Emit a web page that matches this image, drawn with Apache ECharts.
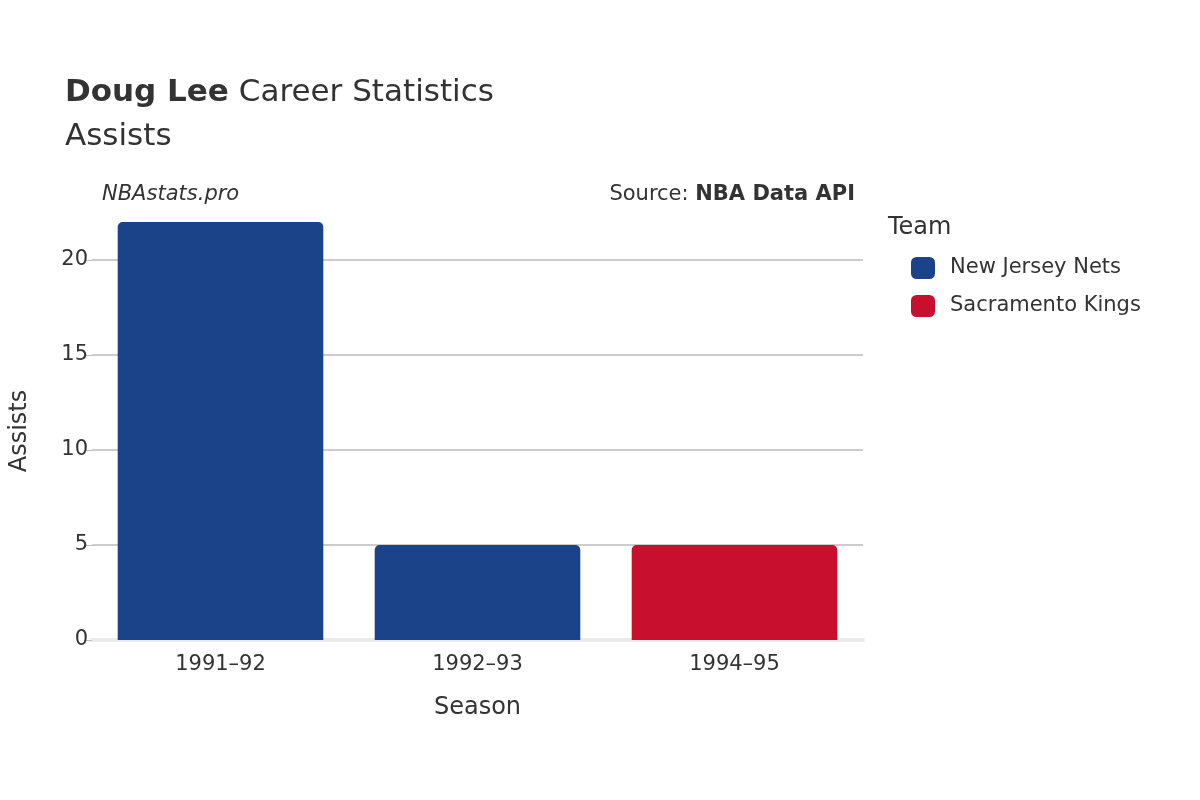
<!DOCTYPE html>
<html>
<head>
<meta charset="utf-8">
<script src="https://cdn.jsdelivr.net/npm/echarts@6/dist/echarts.min.js"></script>
<style>html,body{margin:0;padding:0;background:#fff}#main{width:1200px;height:800px}</style>
</head>
<body>
<div id="main"></div>
<script>
var chart = echarts.init(document.getElementById('main'));

var seasons = ['1991–92', '1992–93', '1994–95'];
var netsAssists = [22, 5, null];
var kingsAssists = [null, null, 5];
var yTicks = [0, 5, 10, 15, 20];

var font = 'DejaVu Sans';

option = {
  backgroundColor: '#fff',
  textStyle: { fontFamily: font },
  title: [{
    text: '{b|Doug Lee} Career Statistics\nAssists',
    left: 60, top: 66,
    textStyle: {
      fontFamily: font, fontSize: 31, fontWeight: 'normal', color: '#333', lineHeight: 44,
      rich: { b: { fontFamily: font, fontSize: 31, fontWeight: 'bold', color: '#333' } }
    }
  }, {
    text: 'NBAstats.pro',
    left: 97, top: 179,
    textStyle: { fontFamily: font, fontSize: 21, fontStyle: 'italic', fontWeight: 'normal', color: '#333' }
  }, {
    text: 'Source: {b|NBA Data API}',
    right: 340, top: 179,
    textStyle: {
      fontFamily: font, fontSize: 21, fontWeight: 'normal', color: '#333',
      rich: { b: { fontFamily: font, fontSize: 21, fontWeight: 'bold', color: '#333' } }
    }
  }, {
    text: 'Team',
    left: 883, top: 211,
    textStyle: { fontFamily: font, fontSize: 24, fontWeight: 'normal', color: '#333' }
  }],
  legend: {
    orient: 'vertical',
    left: 906, top: 252,
    itemWidth: 24, itemHeight: 22, itemGap: 16,
    icon: 'roundRect',
    textStyle: { fontFamily: font, fontSize: 21, color: '#333', padding: [0, 0, 0, 10] },
    data: ['New Jersey Nets', 'Sacramento Kings']
  },
  grid: { left: 92, right: 337, top: 222, bottom: 160 },
  xAxis: {
    type: 'category',
    data: seasons,
    name: 'Season',
    nameLocation: 'middle',
    nameGap: 56,
    nameTextStyle: { fontFamily: font, fontSize: 24, color: '#333' },
    axisLine: { lineStyle: { color: '#ebebeb', width: 4 } },
    axisTick: { show: false },
    axisLabel: { fontFamily: font, fontSize: 21, color: '#333', margin: 14 }
  },
  yAxis: {
    type: 'value',
    min: 0, max: 22, interval: 5,
    name: 'Assists',
    nameLocation: 'middle',
    nameGap: 60,
    nameTextStyle: { fontFamily: font, fontSize: 24, color: '#333' },
    axisLabel: {
      fontFamily: font, fontSize: 21, color: '#333', margin: 4, showMaxLabel: false,
      formatter: function (v) { return yTicks.indexOf(v) >= 0 ? v : ''; }
    },
    axisTick: { show: true, length: 6, lineStyle: { color: '#bbb' } },
    splitLine: { showMaxLine: false, lineStyle: { color: '#bbb', width: 1.5 } }
  },
  series: [{
    name: 'New Jersey Nets',
    type: 'bar',
    stack: 'a',
    barWidth: '80%',
    itemStyle: { color: '#1b4389', borderRadius: [5, 5, 0, 0] },
    data: netsAssists
  }, {
    name: 'Sacramento Kings',
    type: 'bar',
    stack: 'a',
    barWidth: '80%',
    itemStyle: { color: '#c8102e', borderRadius: [5, 5, 0, 0] },
    data: kingsAssists
  }]
};

chart.setOption(option);
</script>
</body>
</html>
